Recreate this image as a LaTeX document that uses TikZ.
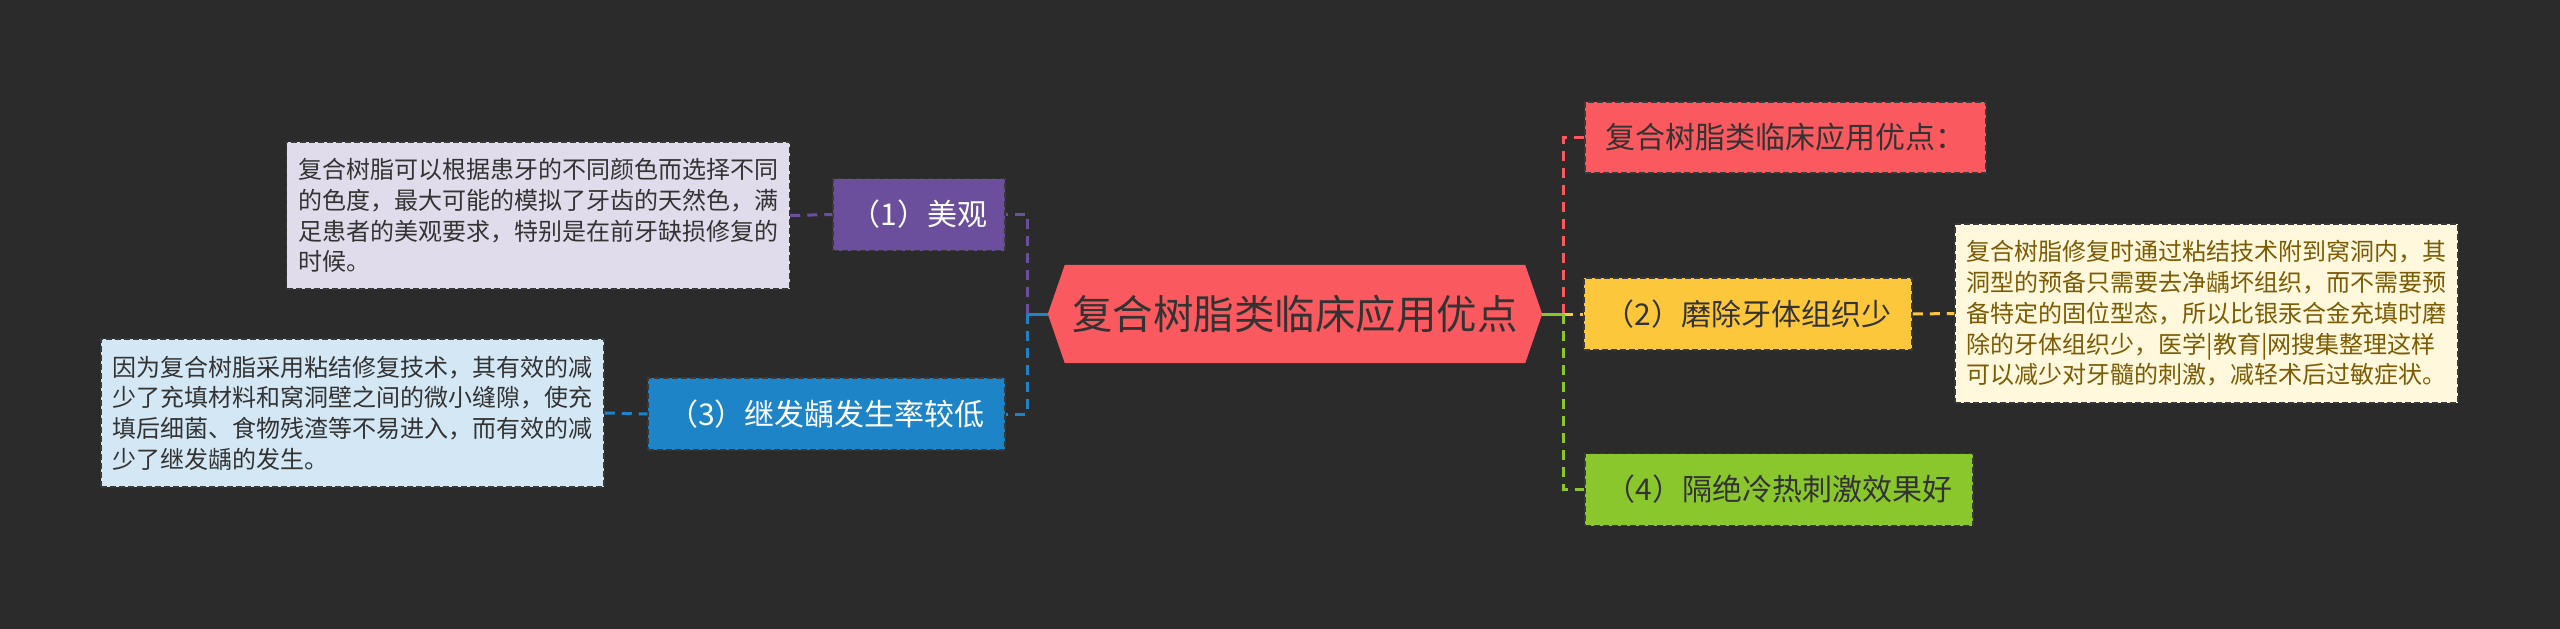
\documentclass[tikz,border=0pt]{standalone}
\usepackage{fontspec}
\setmainfont{Noto Sans CJK SC}
\usetikzlibrary{backgrounds}
\definecolor{bg}{HTML}{2B2B2B}
\definecolor{cred}{HTML}{FA5A5F}
\definecolor{cpur}{HTML}{6C4F9C}
\definecolor{cblue}{HTML}{1E84C8}
\definecolor{cyel}{HTML}{FDC73B}
\definecolor{cgrn}{HTML}{8AC72C}
\definecolor{lpur}{HTML}{E1DCEB}
\definecolor{lblue}{HTML}{D3E7F5}
\definecolor{lyel}{HTML}{FFF8DC}
\definecolor{tdark}{HTML}{333333}
\definecolor{tbrown}{HTML}{7C5B05}
\definecolor{bord}{HTML}{383838}
\begin{document}
\begin{tikzpicture}[x=1pt,y=-1pt,
  box/.style={draw=bord, line width=1.5pt, dash pattern=on 6pt off 3pt, inner sep=0pt, anchor=center},
  topic/.style={box, font=\fontsize{30}{36}\selectfont, minimum height=72pt},
  detail/.style={box, align=left, font=\fontsize{24}{30.75}\selectfont, minimum width=503pt},
  link/.style={line width=3pt, dash pattern=on 10pt off 7pt},
  solidlink/.style={line width=3pt}
]
\useasboundingbox (0,0) rectangle (2560,629);

% central topic
\node[inner sep=0pt, minimum width=494pt, minimum height=98pt,
      font=\fontsize{40.5}{48}\selectfont, text=tdark] (c) at (1295,314) {复合树脂类临床应用优点};

% left branch
\node[topic, fill=cpur, text=white, minimum width=172pt] (p) at (919,214.5) {（1）美观};
\node[topic, fill=cblue, text=white, minimum width=357pt] (b) at (826.5,414) {（3）继发龋发生率较低};
\node[detail, fill=lpur, text=tdark, minimum height=147pt] (pd) at (538,215.5)
  {复合树脂可以根据患牙的不同颜色而选择不同\\的色度，最大可能的模拟了牙齿的天然色，满\\足患者的美观要求，特别是在前牙缺损修复的\\时候。};
\node[detail, fill=lblue, text=tdark, minimum height=148pt] (bd) at (352.5,413)
  {因为复合树脂采用粘结修复技术，其有效的减\\少了充填材料和窝洞壁之间的微小缝隙，使充\\填后细菌、食物残渣等不易进入，而有效的减\\少了继发龋的发生。};

% right branch
\node[topic, fill=cred, text=tdark, minimum width=401pt, minimum height=71pt] (r) at (1785.5,137.5) {复合树脂类临床应用优点：};
\node[topic, fill=cyel, text=tdark, minimum width=328pt] (y) at (1748,314) {（2）磨除牙体组织少};
\node[topic, fill=cgrn, text=tdark, minimum width=388pt] (g) at (1779,489.5) {（4）隔绝冷热刺激效果好};
\node[detail, fill=lyel, text=tbrown, minimum height=179pt] (yd) at (2206.5,313.5)
  {复合树脂修复时通过粘结技术附到窝洞内，其\\洞型的预备只需要去净龋坏组织，而不需要预\\备特定的固位型态，所以比银汞合金充填时磨\\除的牙体组织少，医学|教育|网搜集整理这样\\可以减少对牙髓的刺激，减轻术后过敏症状。};

% junctions
\coordinate (jl) at (1027,314);
\coordinate (jr) at (1563,314);

% connectors
\draw[solidlink, cblue] (c.west) -- (jl);
\draw[link, cpur] (jl) |- (p.east);
\draw[link, cblue] (jl) |- (b.east);
\draw[link, cpur] (pd.east) -- (p.west);
\draw[link, cblue] (bd.east) -- (b.west);
\draw[solidlink, cgrn] (c.east) -- (jr);
\draw[link, cred] (jr) |- (r.west);
\draw[link, cyel] (jr) -- (y.west);
\draw[link, cgrn] (jr) |- (g.west);
\draw[link, cyel] (y.east) -- (yd.west);

\begin{scope}[on background layer]
  \fill[bg] (0,0) rectangle (2560,629);
  \fill[cred] ([xshift=17pt]c.north west) -- ([xshift=-17pt]c.north east) -- (c.east)
     -- ([xshift=-17pt]c.south east) -- ([xshift=17pt]c.south west) -- (c.west) -- cycle;
\end{scope}
\end{tikzpicture}
\end{document}
